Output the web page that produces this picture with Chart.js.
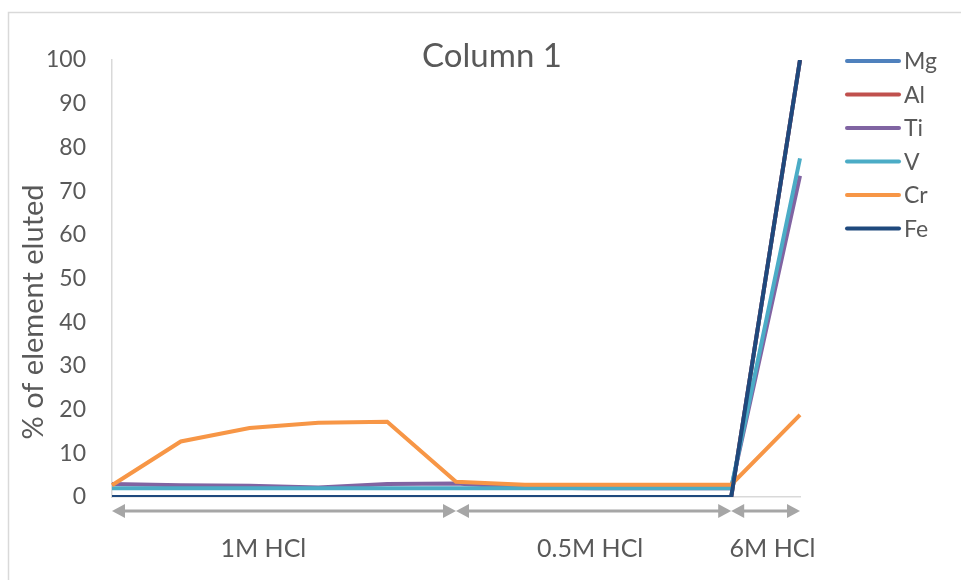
<!DOCTYPE html>
<html>
<head>
<meta charset="utf-8">
<script src="https://cdn.jsdelivr.net/npm/chart.js@4"></script>
<style>
  html, body { margin: 0; padding: 0; background: #ffffff; }
  #wrap { width: 961px; height: 580px; position: relative; }
</style>
</head>
<body>
<div id="wrap"><canvas id="c" width="961" height="580"></canvas></div>
<script>
// Fractions collected from the column
const fractions = ['1', '2', '3', '4', '5', '6', '7', '8', '9', '10', '11'];

// % of each element eluted per fraction
const mg = [0, 0, 0, 0, 0, 0, 0, 0, 0, 0, 100];
const al = [0, 0, 0, 0, 0, 0, 0, 0, 0, 0, 100];
const ti = [3.0, 2.7, 2.6, 2.2, 3.0, 3.1, 2.2, 2.0, 2.0, 2.0, 73.5];
const v  = [2.0, 2.0, 2.0, 2.0, 2.0, 2.0, 2.0, 2.0, 2.0, 2.0, 77.5];
const cr = [2.7, 12.7, 15.8, 17.0, 17.2, 3.5, 2.8, 2.8, 2.8, 2.8, 18.8];
const fe = [0, 0, 0, 0, 0, 0, 0, 0, 0, 0, 100];

const seriesNames = ['Mg', 'Al', 'Ti', 'V', 'Cr', 'Fe'];
const seriesValues = [mg, al, ti, v, cr, fe];
const seriesColors = ['#4F81BD', '#C0504D', '#8064A2', '#4BACC6', '#F79646', '#1F497D'];

// Eluent steps: first fraction index, last fraction index, label
const eluentStart = [0, 5, 9];
const eluentEnd   = [5, 9, 10];
const eluentNames = ['1M HCl', '0.5M HCl', '6M HCl'];
const eluentLabelAt = [2.2, 6.95, 9.6];

const yTicks = { min: 0, max: 100, step: 10 };

const FONT = 'Lato, "Open Sans", sans-serif';
const TEXT = '#595959';

const decorations = {
  id: 'decorations',
  afterDraw(chart) {
    const ctx = chart.ctx;
    const xs = chart.scales.x;
    const area = chart.chartArea;
    ctx.save();

    // frame edge
    ctx.strokeStyle = '#d9d9d9';
    ctx.lineWidth = 1.5;
    ctx.beginPath();
    ctx.moveTo(8.5, 580);
    ctx.lineTo(8.5, 12.5);
    ctx.lineTo(961, 12.5);
    ctx.stroke();

    // title
    ctx.fillStyle = TEXT;
    ctx.font = '33px ' + FONT;
    ctx.textAlign = 'center';
    ctx.textBaseline = 'middle';
    ctx.fillText('Column 1', 492, 56);

    // value axis title
    ctx.save();
    ctx.translate(34, 312);
    ctx.rotate(-Math.PI / 2);
    ctx.font = '29px ' + FONT;
    ctx.fillText('% of element eluted', 0, 0);
    ctx.restore();

    // legend
    ctx.font = '23px ' + FONT;
    ctx.textAlign = 'left';
    chart.data.datasets.forEach((ds, i) => {
      const y = 61 + i * 33.5;
      ctx.strokeStyle = ds.borderColor;
      ctx.lineWidth = 4;
      ctx.lineCap = 'round';
      ctx.beginPath();
      ctx.moveTo(847, y);
      ctx.lineTo(899, y);
      ctx.stroke();
      ctx.fillStyle = TEXT;
      ctx.fillText(ds.label, 904, y + 1);
    });

    // eluent arrows
    const ay = area.bottom + 14;
    const head = 13, half = 7;
    ctx.strokeStyle = '#a6a6a6';
    ctx.lineWidth = 3;
    ctx.lineCap = 'butt';
    eluentStart.forEach((s, i) => {
      const x0 = xs.getPixelForValue(s);
      const x1 = xs.getPixelForValue(eluentEnd[i]);
      ctx.fillStyle = '#a6a6a6';
      ctx.beginPath();
      ctx.moveTo(x0 + head - 1, ay);
      ctx.lineTo(x1 - head + 1, ay);
      ctx.stroke();
      ctx.beginPath();
      ctx.moveTo(x0, ay);
      ctx.lineTo(x0 + head, ay - half);
      ctx.lineTo(x0 + head, ay + half);
      ctx.closePath();
      ctx.fill();
      ctx.beginPath();
      ctx.moveTo(x1, ay);
      ctx.lineTo(x1 - head, ay - half);
      ctx.lineTo(x1 - head, ay + half);
      ctx.closePath();
      ctx.fill();
      ctx.fillStyle = TEXT;
      ctx.font = '25px ' + FONT;
      ctx.textAlign = 'center';
      ctx.textBaseline = 'middle';
      ctx.fillText(eluentNames[i], xs.getPixelForValue(eluentLabelAt[i]), 549);
    });
    ctx.restore();
  }
};

new Chart(document.getElementById('c'), {
  type: 'line',
  data: {
    labels: fractions,
    datasets: seriesNames.map((name, i) => ({
      label: name,
      data: seriesValues[i],
      borderColor: seriesColors[i],
      backgroundColor: seriesColors[i],
      borderWidth: 4,
      pointRadius: 0,
      tension: 0,
      fill: false,
      order: seriesNames.length - i
    }))
  },
  options: {
    responsive: false,
    animation: false,
    layout: { padding: { left: 0, right: 161, top: 60, bottom: 0 } },
    plugins: {
      legend: { display: false },
      title: { display: false },
      tooltip: { enabled: false }
    },
    scales: {
      x: {
        type: 'category',
        offset: false,
        grid: { display: false, drawTicks: false },
        border: { display: true, color: '#d9d9d9', width: 1.5 },
        ticks: { display: false },
        afterFit(s) { s.height = 83; }
      },
      y: {
        min: yTicks.min,
        max: yTicks.max,
        grid: { display: false, drawTicks: false },
        border: { display: true, color: '#d9d9d9', width: 1.5 },
        ticks: {
          stepSize: yTicks.step,
          color: TEXT,
          padding: 26,
          font: { family: FONT, size: 23 }
        },
        afterFit(s) { s.width = 112; }
      }
    }
  },
  plugins: [decorations]
});
</script>
</body>
</html>
